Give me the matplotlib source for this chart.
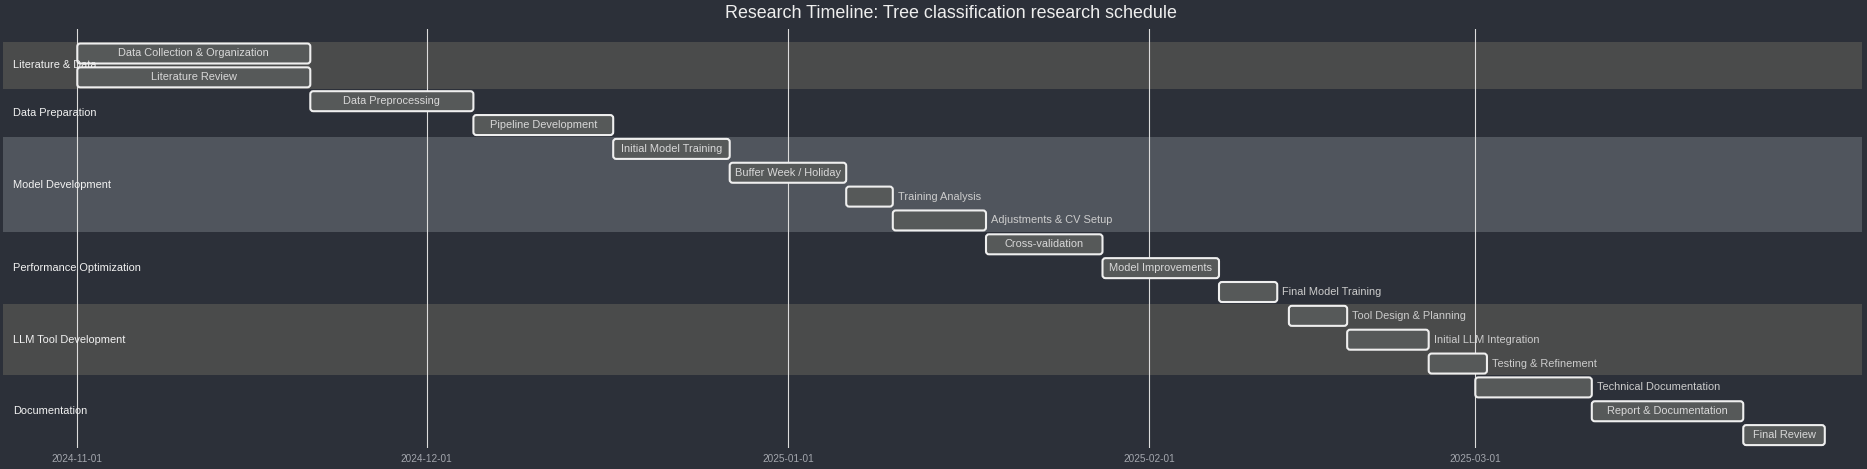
import matplotlib
matplotlib.use('Agg')
import matplotlib.pyplot as plt
import matplotlib.dates as mdates
from matplotlib.patches import FancyBboxPatch
import pandas as pd

title = 'Research Timeline: Tree classification research schedule'

sections = ['Literature & Data', 'Data Preparation', 'Model Development',
            'Performance Optimization', 'LLM Tool Development', 'Documentation']
section_sizes = [2, 2, 4, 3, 3, 3]

tasks = ['Data Collection & Organization', 'Literature Review',
         'Data Preprocessing', 'Pipeline Development',
         'Initial Model Training', 'Buffer Week / Holiday', 'Training Analysis',
         'Adjustments & CV Setup',
         'Cross-validation', 'Model Improvements', 'Final Model Training',
         'Tool Design & Planning', 'Initial LLM Integration', 'Testing & Refinement',
         'Technical Documentation', 'Report & Documentation', 'Final Review']
starts = ['2024-11-01', '2024-11-01', '2024-11-21', '2024-12-05',
          '2024-12-17', '2024-12-27', '2025-01-06', '2025-01-10',
          '2025-01-18', '2025-01-28', '2025-02-07',
          '2025-02-13', '2025-02-18', '2025-02-25',
          '2025-03-01', '2025-03-11', '2025-03-24']
ends = ['2024-11-21', '2024-11-21', '2024-12-05', '2024-12-17',
        '2024-12-27', '2025-01-06', '2025-01-10', '2025-01-18',
        '2025-01-28', '2025-02-07', '2025-02-12',
        '2025-02-18', '2025-02-25', '2025-03-02',
        '2025-03-11', '2025-03-24', '2025-03-31']

BG = '#2c3039'
BAND = {'Literature & Data': '#4a4b4b', 'Model Development': '#50555d',
        'LLM Tool Development': '#4a4b4b'}
BAR = '#565959'
W, H = 1867, 469
PX_DAY = 11.65      # pixels per day
X0 = 77.3           # pixel of first day
ROW = 23.85         # pixels per row
Y0 = 53.5           # pixel of first row centre
TOP, BOT = 29, 448  # axes top / bottom in pixels

plt.rcParams['font.family'] = ['Liberation Sans', 'DejaVu Sans']

s = pd.to_datetime(starts)
e = pd.to_datetime(ends)
s_num = mdates.date2num(s)
e_num = mdates.date2num(e)
d0 = s_num.min()

fig = plt.figure(figsize=(W / 100, H / 100), dpi=100, facecolor=BG)
ax = fig.add_axes([0, 1 - BOT / H, 1, (BOT - TOP) / H])
ax.set_facecolor(BG)
ax.set_xlim(d0 - X0 / PX_DAY, d0 + (W - X0) / PX_DAY)
ax.set_ylim((BOT - Y0) / ROW, (TOP - Y0) / ROW)
for sp in ax.spines.values():
    sp.set_visible(False)

# section bands and labels
row = 0
for name, n in zip(sections, section_sizes):
    if name in BAND:
        ax.axhspan(row - 0.5, row + n - 0.5, xmin=3 / W, xmax=1862 / W,
                   color=BAND[name], lw=0, zorder=0)
    ax.text(d0 - (X0 - 13) / PX_DAY, row + (n - 1) / 2, name, color='#f2f2f2',
            fontsize=7.9, va='center', ha='left', zorder=5)
    row += n

# month grid
months = pd.date_range(s.min(), e.max(), freq='MS')
ax.set_xticks(mdates.date2num(months))
ax.set_xticklabels([m.strftime('%Y-%m-%d') for m in months])
ax.tick_params(axis='x', length=0, pad=4, labelsize=7.2, labelcolor='#a3a6ad')
ax.set_yticks([])
ax.grid(axis='x', color='#dcdcdc', lw=0.8, zorder=1)
ax.set_axisbelow(True)

aspect = PX_DAY / ROW
bar_h = 20 / ROW
fig.canvas.draw()
renderer = fig.canvas.get_renderer()
for i, (t, a, b) in enumerate(zip(tasks, s_num, e_num)):
    box = FancyBboxPatch((a, i - bar_h / 2), b - a, bar_h,
                         boxstyle='round,pad=0,rounding_size=%f' % (3 / PX_DAY),
                         mutation_aspect=aspect, fc=BAR, ec='#efefef', lw=1.5, zorder=3)
    ax.add_patch(box)
    txt = ax.text((a + b) / 2, i, t, color='#d8d8d8', fontsize=7.9,
                  ha='center', va='center', zorder=4)
    tw = txt.get_window_extent(renderer).width
    if tw > (b - a) * PX_DAY:
        txt.set_x(b + 5 / PX_DAY)
        txt.set_ha('left')
        txt.set_color('#cccccc')

fig.text(951 / W, 1 - 14 / H, title, color='#eeeeee', fontsize=12.9, ha='center', va='center')

fig.savefig('out.png', dpi=100, facecolor=BG)
